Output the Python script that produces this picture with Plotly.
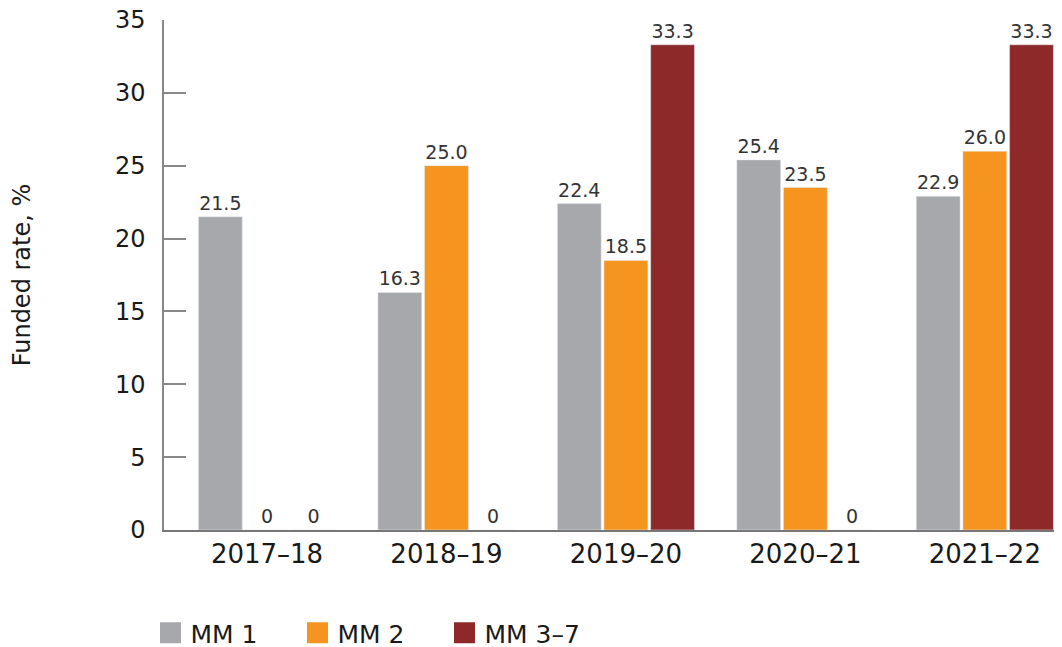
import plotly.graph_objects as go

categories = ["2017–18", "2018–19", "2019–20", "2020–21", "2021–22"]
mm1 = [21.5, 16.3, 22.4, 25.4, 22.9]
mm2 = [0, 25.0, 18.5, 23.5, 26.0]
mm37 = [0, 0, 33.3, 0, 33.3]
series_names = ["MM 1", "MM 2", "MM 3–7"]
colors = ["#a7a8ab", "#f5941f", "#8e2929"]
y_ticks = [0, 5, 10, 15, 20, 25, 30, 35]

FONT = "DejaVu Sans"

def fmt(v):
    return "0" if v == 0 else f"{v:.1f}"

fig = go.Figure()
for name, vals, col in zip(series_names, [mm1, mm2, mm37], colors):
    fig.add_trace(go.Bar(
        x=categories, y=vals, name=name, marker_color=col,
        text=[fmt(v) for v in vals], textposition="outside",
        textfont=dict(family=FONT, size=19, color="#333333"),
        cliponaxis=False, showlegend=False,
    ))
    fig.add_trace(go.Scatter(
        x=[None], y=[None], mode="markers", name=name,
        marker=dict(symbol="square", size=16, color=col,
                    line=dict(color=col, width=5)),
        showlegend=True,
    ))

# page has an 8px body margin, so the figure is laid out 8px up/left
fig.update_layout(
    width=1054, height=647,
    margin=dict(l=156, r=0, t=12, b=125, autoexpand=False),
    plot_bgcolor="white", paper_bgcolor="white",
    barmode="group", bargap=0.22, bargroupgap=0.06,
    font=dict(family=FONT, color="#1a1a1a"),
    legend=dict(orientation="h", x=-0.015, xanchor="left", y=-0.202, yanchor="middle",
                font=dict(family=FONT, size=25, color="#1a1a1a"),
                entrywidth=102, itemwidth=30),
)
fig.update_xaxes(
    type="category", range=[-0.574, 4.43], automargin=False,
    showline=True, linecolor="#777777", linewidth=2,
    ticks="", tickfont=dict(family=FONT, size=26, color="#1a1a1a"),
    showgrid=False,
)
fig.update_yaxes(
    range=[0, 35], tickvals=y_ticks, automargin=False,
    showline=True, linecolor="#888888", linewidth=1.5,
    ticks="inside", ticklen=22, tickcolor="#888888", tickwidth=1.5,
    ticklabelstandoff=12, ticklabeloverflow="allow",
    tickfont=dict(family=FONT, size=24, color="#1a1a1a"),
    showgrid=False, zeroline=False,
    title=dict(text="Funded rate, %", font=dict(family=FONT, size=24, color="#1a1a1a"),
               standoff=90),
)

fig.write_html("out.html")
